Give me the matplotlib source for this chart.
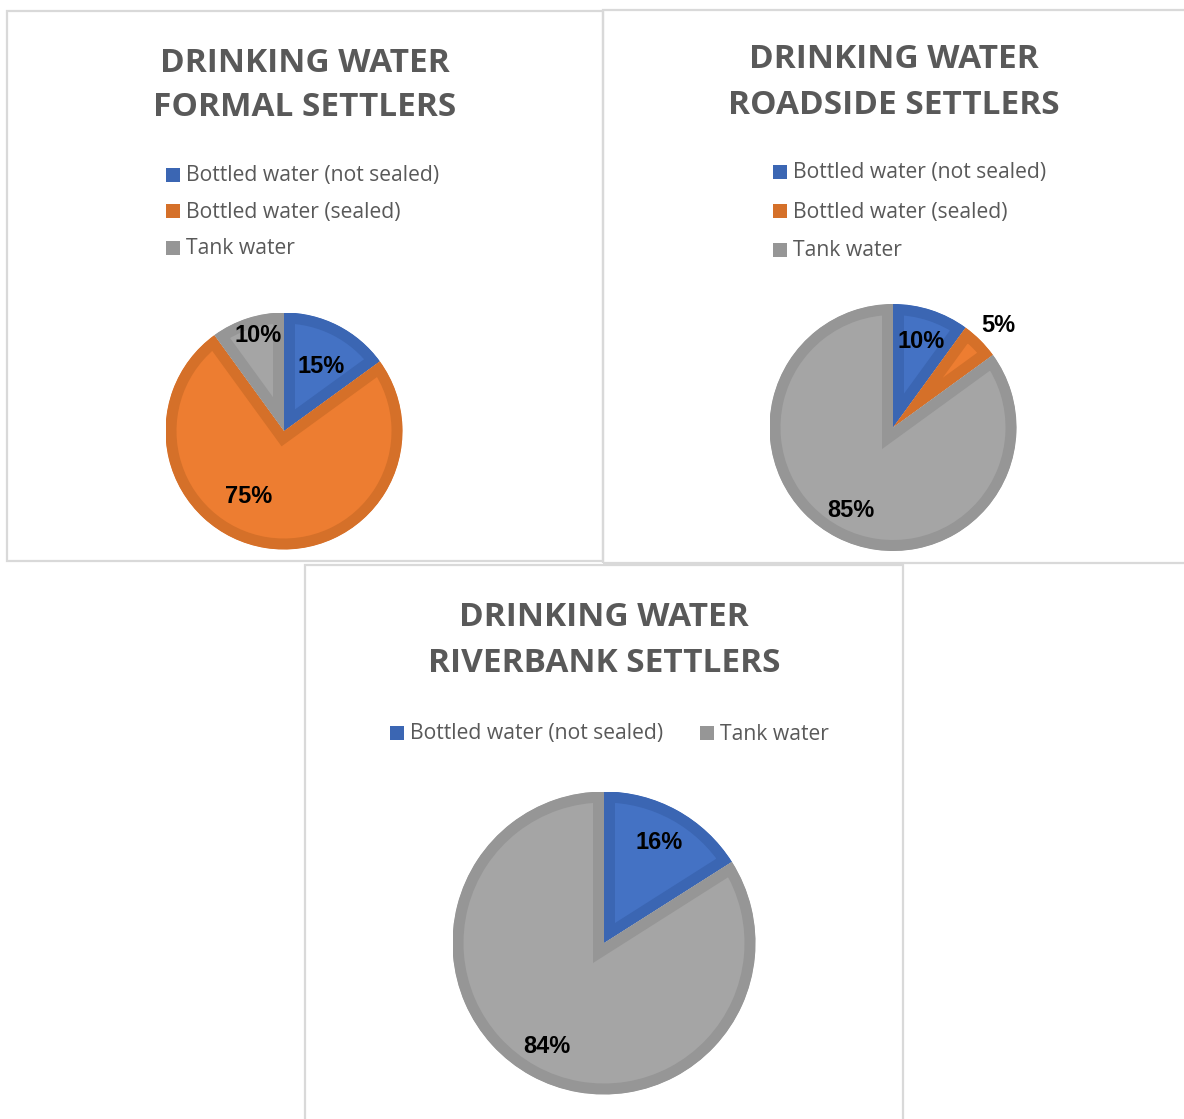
import numpy as np
import matplotlib
matplotlib.use('Agg')
import matplotlib.pyplot as plt
from matplotlib.patches import Rectangle

# Daten
kategorien = ['Bottled water (not sealed)', 'Bottled water (sealed)', 'Tank water']
formal = [15, 75, 10]
roadside = [10, 5, 85]
riverbank_kat = ['Bottled water (not sealed)', 'Tank water']
riverbank = [16, 84]

titel = [['DRINKING WATER', 'FORMAL SETTLERS'],
         ['DRINKING WATER', 'ROADSIDE SETTLERS'],
         ['DRINKING WATER', 'RIVERBANK SETTLERS']]

# Farben (Füllung, Rand)
fuell = {'Bottled water (not sealed)': '#4472C4', 'Bottled water (sealed)': '#ED7D31', 'Tank water': '#A5A5A5'}
rand = {'Bottled water (not sealed)': '#3B66B3', 'Bottled water (sealed)': '#D57029', 'Tank water': '#969696'}

W, H = 1184, 1119
fig = plt.figure(figsize=(W/100, H/100), dpi=100)

def fx(x):
    return x/W

def fy(y):
    return 1 - y/H

textfarbe = '#595959'

# Rahmen der drei Diagramme (Pixel: x0, y0, x1, y1)
for x0, y0, x1, y1 in [(7, 11, 603, 561), (603, 10, 1195, 563), (305, 565, 903, 1130)]:
    fig.add_artist(Rectangle((fx(x0), fy(y1)), fx(x1-x0), (y1-y0)/H, transform=fig.transFigure,
                             fill=False, edgecolor='#D9D9D9', lw=1.6))

def kuchen(werte, kat, cx, cy, r, dist, dwinkel):
    ax = fig.add_axes([fx(cx-r), fy(cy+r), 2*r/W, 2*r/H])
    wedges, _ = ax.pie(werte, startangle=90, counterclock=False,
                       colors=[fuell[k] for k in kat])
    # Rand nur innen (auf eigenes Segment geclippt)
    for w, k in zip(wedges, kat):
        w.set_edgecolor(rand[k])
        w.set_linewidth(22*72/100)
        w.set_joinstyle('miter')
        w.set_clip_on(True)
        w.set_clip_path(w)
    summe = sum(werte)
    for w, v, d, dw in zip(wedges, werte, dist, dwinkel):
        th = np.deg2rad((w.theta1 + w.theta2)/2 + dw)
        ax.text(d*np.cos(th), d*np.sin(th), '%d%%' % round(100*v/summe),
                ha='center', va='center', fontsize=17, fontweight='bold',
                family='Liberation Sans', color='black')
    ax.set_xlim(-1, 1)
    ax.set_ylim(-1, 1)
    ax.axis('off')
    return ax

def titelzeilen(zeilen, cx, y1, y2):
    for z, y in zip(zeilen, [y1, y2]):
        fig.text(fx(cx), fy(y+3), z, ha='center', va='center', fontsize=24,
                 fontweight='bold', family='Open Sans', color=textfarbe)

def legende(kat, xs, ys, gap=6, s=14):
    for k, x, y in zip(kat, xs, ys):
        fig.add_artist(Rectangle((fx(x), fy(y+s/2)), s/W, s/H, transform=fig.transFigure,
                                 facecolor=rand[k], edgecolor='none'))
        fig.text(fx(x+s+gap), fy(y+1), k, ha='left', va='center', fontsize=15.2,
                 family='Open Sans', color=textfarbe)

# Formal settlers
titelzeilen(titel[0], 305, 60, 105)
legende(kategorien, [166]*3, [175, 211.5, 248])
kuchen(formal, kategorien, 284, 431, 118.5, [0.63, 0.63, 0.83], [-3, -19, -3])

# Roadside settlers
titelzeilen(titel[1], 894, 57, 103)
legende(kategorien, [773]*3, [171.5, 211.5, 250])
kuchen(roadside, kategorien, 893, 427.5, 123.5, [0.736, 1.19, 0.75], [0, -1, 0])

# Riverbank settlers
titelzeilen(titel[2], 604, 615, 660)
legende(riverbank_kat, [390, 700], [733, 733])
kuchen(riverbank, riverbank_kat, 604, 943, 151.5, [0.76, 0.78], [0, 0])

plt.savefig('out.png', dpi=100, facecolor='white')
plt.close(fig)
